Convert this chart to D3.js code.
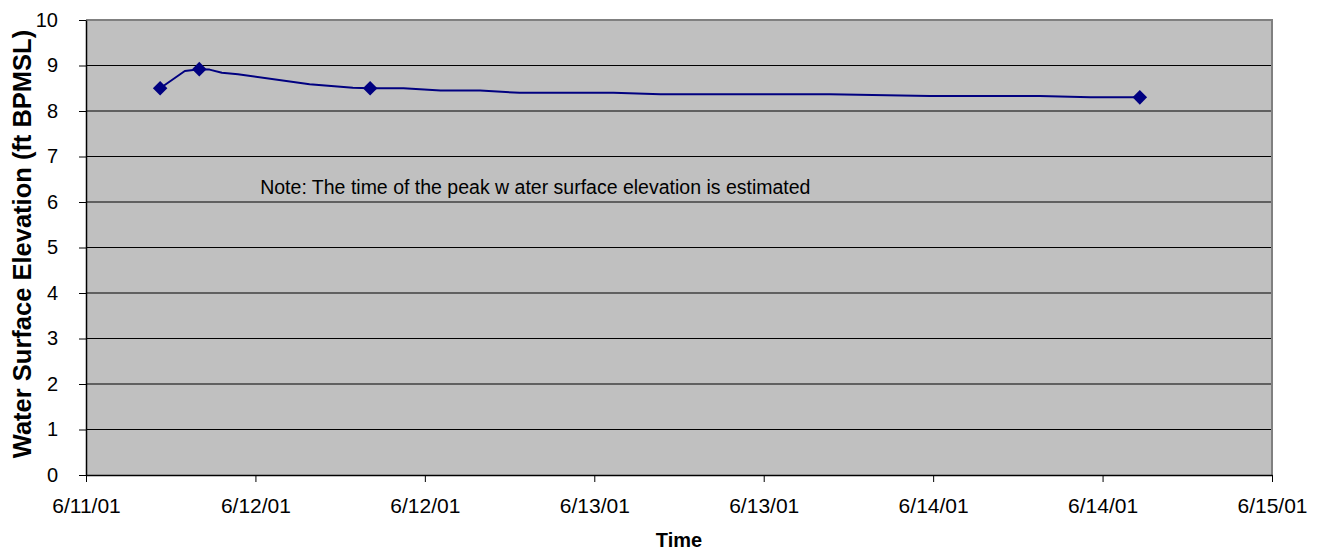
<!DOCTYPE html>
<html>
<head>
<meta charset="utf-8">
<script src="https://cdn.jsdelivr.net/npm/d3@7"></script>
<style>
  html, body { margin: 0; padding: 0; background: #fff; }
  svg { display: block; }
</style>
</head>
<body>
<div id="chart"></div>
<script>
// Water surface elevation over time, hours from 6/11/01 00:00

const lineHours  = [6.0, 8.0, 9.17, 10.0, 11.0, 12.3, 18.1, 21.6, 23.0, 25.7, 28.7, 31.9, 35.1, 42.7, 46.5, 60.2, 68.3, 77.2, 81.3, 85.3];
const lineValues = [8.5, 8.88, 8.92, 8.91, 8.84, 8.81, 8.59, 8.51, 8.5, 8.5, 8.45, 8.45, 8.4, 8.4, 8.37, 8.37, 8.33, 8.33, 8.3, 8.3];

const markerHours  = [6.0, 9.17, 23.0, 85.3];
const markerValues = [8.5, 8.92, 8.5, 8.3];

const xTickLabels = ["6/11/01", "6/12/01", "6/12/01", "6/13/01", "6/13/01", "6/14/01", "6/14/01", "6/15/01"];
const yTicks = [0, 1, 2, 3, 4, 5, 6, 7, 8, 9, 10];

const NOTE = "Note: The time of the peak w ater surface elevation is estimated";

const W = 1321, H = 560;
const m = { top: 20, right: 49, bottom: 85, left: 86 };
const iw = W - m.left - m.right;
const ih = H - m.top - m.bottom;
const FONT = "'Liberation Sans', Arial, sans-serif";

const svg = d3.select("#chart").append("svg")
  .attr("width", W)
  .attr("height", H);

const g = svg.append("g").attr("transform", `translate(${m.left},${m.top})`);

const x = d3.scaleLinear().domain([0, 96]).range([0, iw]);
const y = d3.scaleLinear().domain([0, 10]).range([ih, 0]);

const xTickVals = xTickLabels.map((d, i) => i * 96 / (xTickLabels.length - 1));

// plot background
g.append("rect")
  .attr("x", 0).attr("y", 0)
  .attr("width", iw).attr("height", ih)
  .attr("fill", "#c0c0c0");

// horizontal grid
g.selectAll(".grid-h")
  .data(yTicks.filter(d => d > 0 && d < 10))
  .join("line")
    .attr("x1", 0).attr("x2", iw)
    .attr("y1", d => y(d)).attr("y2", d => y(d))
    .attr("stroke", "#000")
    .attr("stroke-width", 1);

// top and right frame
g.append("path")
  .attr("d", `M0,${y(10)}H${iw}V${ih}`)
  .attr("fill", "none")
  .attr("stroke", "#808080")
  .attr("stroke-width", 2);

// axes
const xAxisG = g.append("g")
  .attr("transform", `translate(0,${ih})`)
  .call(d3.axisBottom(x)
    .tickValues(xTickVals)
    .tickFormat((d, i) => xTickLabels[i])
    .tickSize(7)
    .tickSizeOuter(0)
    .tickPadding(16));

xAxisG.select(".domain").attr("stroke", "#000").attr("stroke-width", 1.5);
xAxisG.selectAll(".tick line").attr("stroke", "#000");
xAxisG.selectAll("text")
  .attr("fill", "#000")
  .attr("font-size", "21px")
  .attr("font-family", FONT);

const yAxisG = g.append("g")
  .call(d3.axisLeft(y)
    .tickValues(yTicks)
    .tickSize(7)
    .tickSizeOuter(0)
    .tickPadding(21));

yAxisG.select(".domain").attr("stroke", "#000").attr("stroke-width", 1.5);
yAxisG.selectAll(".tick line").attr("stroke", "#000");
yAxisG.selectAll("text")
  .attr("fill", "#000")
  .attr("font-size", "20px")
  .attr("font-family", FONT);

// data line
const lineData = lineHours.map((h, i) => ({ h, v: lineValues[i] }));
g.append("path")
  .datum(lineData)
  .attr("d", d3.line().x(d => x(d.h)).y(d => y(d.v)))
  .attr("fill", "none")
  .attr("stroke", "#000080")
  .attr("stroke-width", 2)
  .attr("stroke-linejoin", "round");

// markers
const markerData = markerHours.map((h, i) => ({ h, v: markerValues[i] }));
g.selectAll(".marker")
  .data(markerData)
  .join("path")
    .attr("class", "marker")
    .attr("transform", d => `translate(${x(d.h)},${y(d.v)})`)
    .attr("d", d3.symbol(d3.symbolDiamond2, 135)())
    .attr("fill", "#000080");

// note
g.append("text")
  .attr("x", x(14.1))
  .attr("y", y(6.18))
  .attr("fill", "#000")
  .attr("font-size", "19.5px")
  .attr("font-family", FONT)
  .text(NOTE);

// axis titles
svg.append("text")
  .attr("x", m.left + iw / 2)
  .attr("y", 547)
  .attr("text-anchor", "middle")
  .attr("font-size", "20px")
  .attr("font-weight", "bold")
  .attr("font-family", FONT)
  .text("Time");

svg.append("text")
  .attr("transform", `translate(31,244) rotate(-90)`)
  .attr("text-anchor", "middle")
  .attr("font-size", "25.5px")
  .attr("font-weight", "bold")
  .attr("font-family", FONT)
  .text("Water Surface Elevation (ft BPMSL)");
</script>
</body>
</html>
